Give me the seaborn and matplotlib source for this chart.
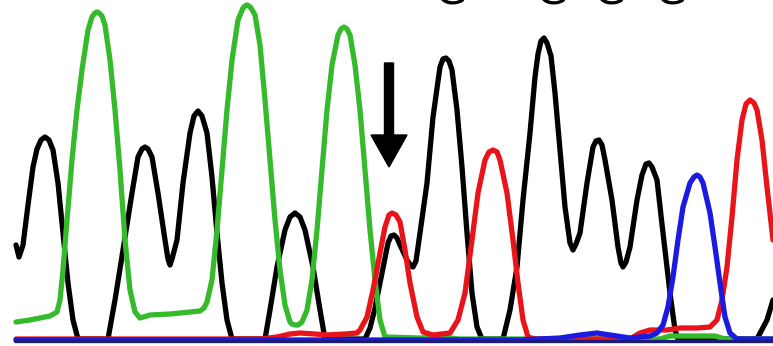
import matplotlib
matplotlib.use("Agg")
import matplotlib.pyplot as plt
import seaborn as sns
import pandas as pd

# ---- data (scan position, signal intensity) ----
black_x = [16,19,23,28,33,37,41,45,49,53,58,63,68,73,78,108,115,123,132,138,142,145,148,152,158,165,168,170,172,177,183,190,194,198,202,207,212,217,222,227,232,265,270,277,285,290,295,300,305,313,320,325,365,370,375,382,388,391,394,397,400,407,411,413,416,420,427,433,440,443,446,449,452,457,462,467,472,477,482,503,510,517,523,530,535,538,541,544,547,551,555,560,565,570,573,576,580,587,593,596,599,602,605,612,618,621,623,626,630,637,642,646,649,652,657,663,670,675,678,757,767,773]
black_y = [96,84,96,136,174,192,201,204,201,191,158,108,58,21,2,2,41,91,148,184,192,194,192,184,148,101,82,76,82,101,158,208,225,230,225,208,164,108,58,21,2,2,31,74,111,124,128,124,111,74,31,2,2,13,33,68,98,105,106,103,96,81,75,74,80,108,158,224,274,282,283,280,271,231,174,108,48,14,2,2,31,74,141,208,264,287,300,303,298,285,248,191,134,98,91,97,108,158,194,200,201,196,181,141,94,78,74,79,94,141,166,177,178,174,161,108,48,11,2,2,21,41]

green_x = [16,30,50,57,60,63,67,72,77,82,88,92,95,97,99,102,105,110,115,120,125,130,135,140,150,170,190,200,204,207,212,217,222,227,232,238,243,245,247,249,251,255,260,265,270,275,280,285,290,292,295,298,302,307,312,317,322,327,332,338,341,344,347,350,355,360,365,370,375,380,385,420,440,460,660,670,715,725,773]
green_y = [19,21,25,29,41,71,121,181,231,271,311,324,328,329,328,325,316,281,231,171,101,51,29,23,26,27,29,30,33,39,61,111,171,231,281,321,333,335,336,335,333,326,296,241,181,121,71,36,19,17,16,16,19,31,61,111,171,231,276,306,312,314,312,306,276,231,171,111,61,21,4,3,4,2,2,5,5,2,2]

red_x = [16,260,277,290,300,315,327,345,357,360,367,373,380,385,389,392,396,400,405,410,417,423,433,450,458,465,472,478,485,489,493,497,500,507,513,518,523,528,535,630,640,650,667,680,697,710,717,722,727,732,737,742,746,750,754,757,762,767,773]
red_y = [2,2,4,7,8,7,6,7,8,11,24,51,88,114,126,128,126,119,91,58,24,9,6,8,21,48,101,148,181,189,191,189,181,148,101,58,21,4,2,2,8,11,11,13,13,14,21,41,74,124,181,221,237,241,238,231,201,154,101]

blue_x = [16,520,560,580,597,610,630,650,657,663,668,673,678,683,690,694,697,700,703,710,715,720,725,730,737,773]
blue_y = [1,1,3,6,8,6,3,5,8,16,34,64,101,134,158,164,166,164,158,128,94,58,24,8,2,2]

base_letters = ["G", "G", "G", "G"]
letter_pos = [451, 552, 610, 671]
arrow_pos = 389

traces = [
    ("black", black_x, black_y, "#000000"),
    ("green", green_x, green_y, "#35ba2b"),
    ("red", red_x, red_y, "#e8141a"),
    ("blue", blue_x, blue_y, "#1a1ae0"),
]

sns.set_style("white")
fig = plt.figure(figsize=(7.73, 3.46), dpi=100)
ax = fig.add_axes([0, 0, 1, 1])
ax.set_xlim(0, 773)
ax.set_ylim(-5, 341)

for i, (name, xs, ys, col) in enumerate(traces):
    df = pd.DataFrame({"scan": xs, "signal": ys})
    sns.lineplot(data=df, x="scan", y="signal", color=col, lw=3.8,
                 estimator=None, sort=False, ax=ax, zorder=2 + i,
                 solid_joinstyle="round", solid_capstyle="round")

ax.axhline(0, xmin=15 / 773, xmax=1, color="#1c1c78", lw=2.4, zorder=8)

for lx, letter in zip(letter_pos, base_letters):
    ax.text(lx, 336.5, letter, ha="center", va="baseline", fontsize=30,
            color="black", family="DejaVu Sans", clip_on=False)

ax.arrow(arrow_pos, 278, 0, -104, width=9, head_width=36, head_length=32,
         length_includes_head=True, color="black", zorder=10)

ax.set_axis_off()
fig.savefig("out.png", dpi=100)
